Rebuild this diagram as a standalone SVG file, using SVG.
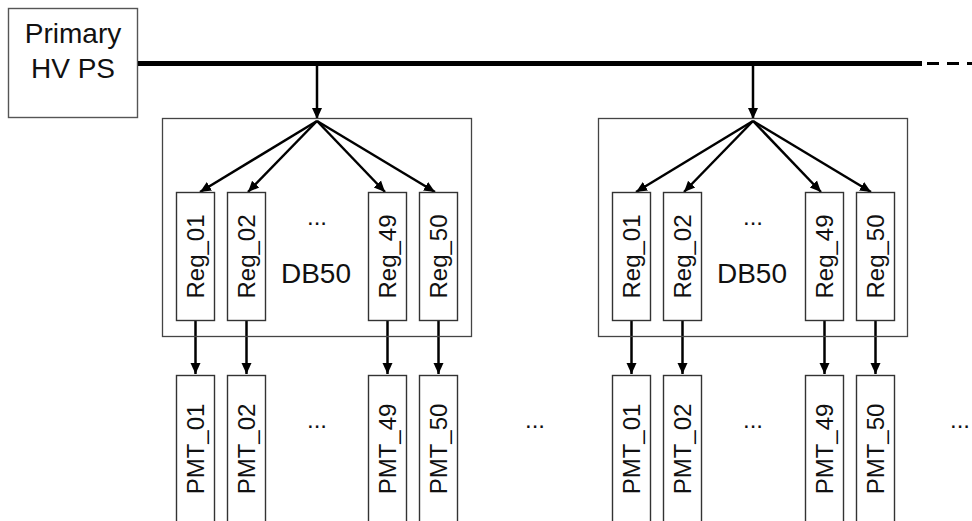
<svg xmlns="http://www.w3.org/2000/svg" width="972" height="521" viewBox="0 0 972 521">
<style>
  .box{fill:#fff;stroke:#333;stroke-width:1.4}
  .db{fill:none;stroke:#444;stroke-width:1.3}
  .t{font-family:"Liberation Sans",Arial,sans-serif;fill:#111}
  .big{font-size:28px}
  .sm{font-size:24px}
  .ln{stroke:#000;stroke-width:2.5;fill:none}
  .arr{marker-end:url(#ah)}
</style>
<defs>
  <marker id="ah" markerUnits="userSpaceOnUse" markerWidth="13" markerHeight="13" viewBox="0 0 13 13" refX="11" refY="6.5" orient="auto">
    <path d="M0,1.5 L11,6.5 L0,11.5 z" fill="#000"/>
  </marker>
</defs>
<rect width="972" height="521" fill="#fff"/>

<g id="primary">
  <rect class="box" x="8.5" y="8.5" width="129" height="109" style="stroke:#555"/>
  <text class="t big" x="73" y="43" text-anchor="middle">Primary</text>
  <text class="t big" x="73" y="78" text-anchor="middle">HV PS</text>
</g>

<g id="connectors">
  <line x1="138" y1="63.5" x2="922" y2="63.5" stroke="#000" stroke-width="5"/>
  <line x1="927" y1="63.5" x2="972" y2="63.5" stroke="#000" stroke-width="3" stroke-dasharray="12 8"/>
  <!-- left block -->
  <line class="ln arr" x1="317" y1="64" x2="317" y2="119"/>
  <line class="ln arr" x1="317" y1="121" x2="200" y2="192"/>
  <line class="ln arr" x1="317" y1="121" x2="248" y2="192"/>
  <line class="ln arr" x1="317" y1="121" x2="385" y2="192"/>
  <line class="ln arr" x1="317" y1="121" x2="435" y2="192"/>
  <line class="ln arr" x1="195.5" y1="321" x2="195.5" y2="374"/>
  <line class="ln arr" x1="246.5" y1="321" x2="246.5" y2="374"/>
  <line class="ln arr" x1="387.5" y1="321" x2="387.5" y2="374"/>
  <line class="ln arr" x1="438.5" y1="321" x2="438.5" y2="374"/>
  <!-- right block -->
  <line class="ln arr" x1="753" y1="64" x2="753" y2="119"/>
  <line class="ln arr" x1="753" y1="121" x2="636" y2="192"/>
  <line class="ln arr" x1="753" y1="121" x2="684" y2="192"/>
  <line class="ln arr" x1="753" y1="121" x2="821" y2="192"/>
  <line class="ln arr" x1="753" y1="121" x2="871" y2="192"/>
  <line class="ln arr" x1="631.5" y1="321" x2="631.5" y2="374"/>
  <line class="ln arr" x1="682.5" y1="321" x2="682.5" y2="374"/>
  <line class="ln arr" x1="824.5" y1="321" x2="824.5" y2="374"/>
  <line class="ln arr" x1="875.5" y1="321" x2="875.5" y2="374"/>
</g>

<g id="db50_a">
  <rect class="db" x="162.5" y="118.5" width="309" height="218"/>
  <text class="t sm" x="317" y="225" text-anchor="middle">...</text>
  <text class="t big" x="316" y="283" text-anchor="middle">DB50</text>
</g>
<g id="reg_a01"><rect class="box" x="176.5" y="192.5" width="38" height="128"/><text class="t sm" transform="translate(195.5,256.5) rotate(-90)" y="8" text-anchor="middle">Reg_01</text></g>
<g id="reg_a02"><rect class="box" x="227.5" y="192.5" width="38" height="128"/><text class="t sm" transform="translate(246.5,256.5) rotate(-90)" y="8" text-anchor="middle">Reg_02</text></g>
<g id="reg_a49"><rect class="box" x="368.5" y="192.5" width="38" height="128"/><text class="t sm" transform="translate(387.5,256.5) rotate(-90)" y="8" text-anchor="middle">Reg_49</text></g>
<g id="reg_a50"><rect class="box" x="419.5" y="192.5" width="38" height="128"/><text class="t sm" transform="translate(438.5,256.5) rotate(-90)" y="8" text-anchor="middle">Reg_50</text></g>

<g id="pmt_a01"><rect class="box" x="176.5" y="375.5" width="38" height="160"/><text class="t sm" transform="translate(195.5,449) rotate(-90)" y="8" text-anchor="middle">PMT_01</text></g>
<g id="pmt_a02"><rect class="box" x="227.5" y="375.5" width="38" height="160"/><text class="t sm" transform="translate(246.5,449) rotate(-90)" y="8" text-anchor="middle">PMT_02</text></g>
<g id="pmt_a49"><rect class="box" x="368.5" y="375.5" width="38" height="160"/><text class="t sm" transform="translate(387.5,449) rotate(-90)" y="8" text-anchor="middle">PMT_49</text></g>
<g id="pmt_a50"><rect class="box" x="419.5" y="375.5" width="38" height="160"/><text class="t sm" transform="translate(438.5,449) rotate(-90)" y="8" text-anchor="middle">PMT_50</text></g>
<text class="t sm" x="317" y="428" text-anchor="middle">...</text>
<text class="t sm" x="535" y="428" text-anchor="middle">...</text>

<g id="db50_b">
  <rect class="db" x="598.5" y="118.5" width="309" height="218"/>
  <text class="t sm" x="753" y="225" text-anchor="middle">...</text>
  <text class="t big" x="752" y="283" text-anchor="middle">DB50</text>
</g>
<g id="reg_b01"><rect class="box" x="612.5" y="192.5" width="38" height="128"/><text class="t sm" transform="translate(631.5,256.5) rotate(-90)" y="8" text-anchor="middle">Reg_01</text></g>
<g id="reg_b02"><rect class="box" x="663.5" y="192.5" width="38" height="128"/><text class="t sm" transform="translate(682.5,256.5) rotate(-90)" y="8" text-anchor="middle">Reg_02</text></g>
<g id="reg_b49"><rect class="box" x="805.5" y="192.5" width="38" height="128"/><text class="t sm" transform="translate(824.5,256.5) rotate(-90)" y="8" text-anchor="middle">Reg_49</text></g>
<g id="reg_b50"><rect class="box" x="856.5" y="192.5" width="38" height="128"/><text class="t sm" transform="translate(875.5,256.5) rotate(-90)" y="8" text-anchor="middle">Reg_50</text></g>

<g id="pmt_b01"><rect class="box" x="612.5" y="375.5" width="38" height="160"/><text class="t sm" transform="translate(631.5,449) rotate(-90)" y="8" text-anchor="middle">PMT_01</text></g>
<g id="pmt_b02"><rect class="box" x="663.5" y="375.5" width="38" height="160"/><text class="t sm" transform="translate(682.5,449) rotate(-90)" y="8" text-anchor="middle">PMT_02</text></g>
<g id="pmt_b49"><rect class="box" x="805.5" y="375.5" width="38" height="160"/><text class="t sm" transform="translate(824.5,449) rotate(-90)" y="8" text-anchor="middle">PMT_49</text></g>
<g id="pmt_b50"><rect class="box" x="856.5" y="375.5" width="38" height="160"/><text class="t sm" transform="translate(875.5,449) rotate(-90)" y="8" text-anchor="middle">PMT_50</text></g>
<text class="t sm" x="753" y="428" text-anchor="middle">...</text>
<text class="t sm" x="960" y="428" text-anchor="middle">...</text>
</svg>
